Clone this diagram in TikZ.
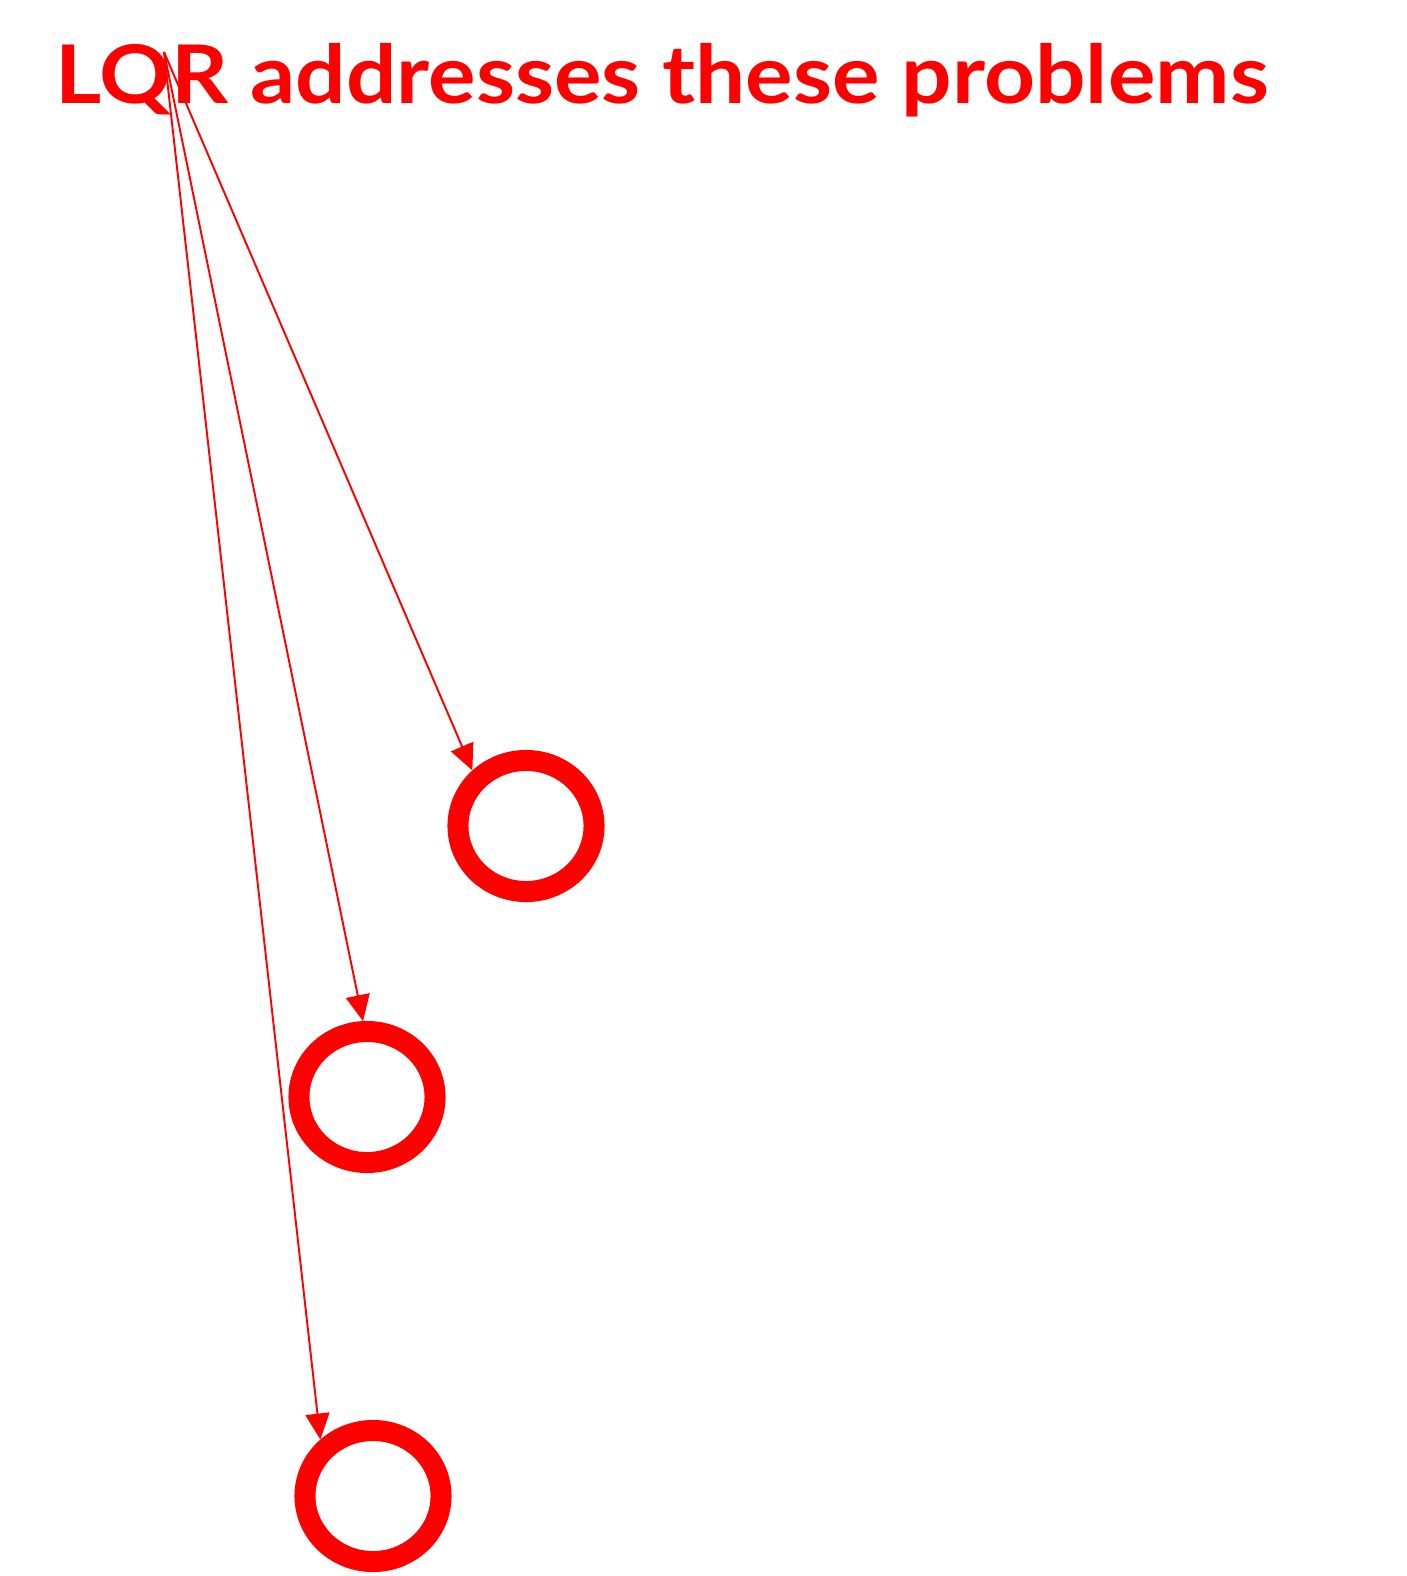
\documentclass[tikz,border=0pt]{standalone}
\usepackage{fontspec}
\newfontfamily\titlefont{Lato}[FakeStretch=1.1]
\usetikzlibrary{shapes.geometric, arrows.meta, positioning}
\tikzstyle{title} = [inner sep=0pt, anchor=base west, text=red, font=\titlefont\fontsize{23}{26}\selectfont\bfseries]
\tikzstyle{ring} = [ellipse, draw=red, line width=0.21cm, minimum width=1.36cm, minimum height=1.31cm]
\tikzstyle{arrow} = [draw=red, line width=0.55pt, -{Triangle[length=0.26cm,width=0.24cm]}]

\begin{document}
\begin{tikzpicture}[x=0.01cm, y=-0.01cm]
\useasboundingbox (0,0) rectangle (1407,1576);
\node (lqr) [title] at (55,104) {LQR addresses these problems};
\coordinate (src) at (164,52);

\node (p1) [ring] at (526,826) {};
\node (p2) [ring] at (367,1097) {};
\node (p3) [ring] at (373,1496) {};

\draw [arrow] (src) -- (p1.134);
\draw [arrow] (src) -- (p2.93);
\draw [arrow] (src) -- (p3.133);
\end{tikzpicture}
\end{document}
